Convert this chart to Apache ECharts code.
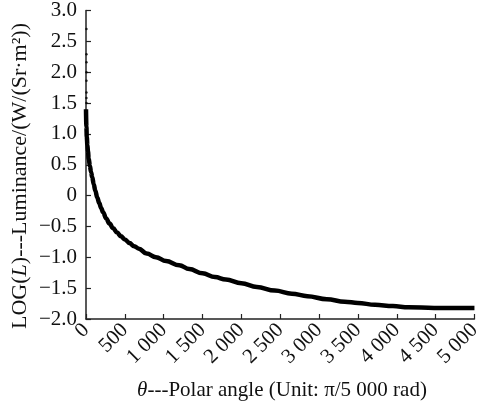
<!DOCTYPE html>
<html><head><meta charset="utf-8">
<script src="https://cdn.jsdelivr.net/npm/echarts@6/dist/echarts.min.js"></script>
<style>html,body{margin:0;padding:0;background:#fff}#c{width:484px;height:407px}</style>
</head><body><div id="c"></div>
<script>
var thetaValues = [0, 5, 10, 18, 25, 35, 50, 65, 80, 100, 120, 145, 170, 195, 220, 260, 300, 350, 400, 450, 500, 560, 620, 680, 780, 900, 1030, 1200, 1330, 1500, 1660, 1800, 2000, 2200, 2430, 2650, 2850, 3100, 3330, 3500, 3720, 3950, 4150, 4480, 5000];
var logLValues  = [1.4, 1.12, 0.95, 0.82, 0.72, 0.6, 0.48, 0.38, 0.3, 0.18, 0.08, -0.03, -0.12, -0.2, -0.27, -0.37, -0.45, -0.53, -0.6, -0.66, -0.71, -0.77, -0.82, -0.86, -0.94, -1.0, -1.06, -1.13, -1.19, -1.26, -1.32, -1.36, -1.42, -1.48, -1.54, -1.59, -1.63, -1.68, -1.72, -1.74, -1.77, -1.79, -1.81, -1.82, -1.82];
var sparseTheta = [6, 6, 6, 6, 6, 6, 6, 6];
var sparseLogL  = [2.7, 2.29, 2.16, 2.0, 1.86, 1.67, 1.58, 1.5];
var xTicks = [0, 500, 1000, 1500, 2000, 2500, 3000, 3500, 4000, 4500, 5000];
var yTicks = [-2.0, -1.5, -1.0, -0.5, 0, 0.5, 1.0, 1.5, 2.0, 2.5, 3.0];

var FONT = '"Liberation Serif", "DejaVu Serif", serif';
var chart = echarts.init(document.getElementById('c'), null, {renderer: 'canvas'});
var main = thetaValues.map(function (t, i) { return [t, logLValues[i]]; });
var sparse = sparseTheta.map(function (t, i) { return [t, sparseLogL[i]]; });
chart.setOption({
  animation: false,
  grid: {left: 86, right: 5, top: 10, bottom: 88, containLabel: false},
  xAxis: {
    type: 'value', min: xTicks[0], max: xTicks[xTicks.length - 1], interval: 500,
    axisLine: {show: true, onZero: false, lineStyle: {color: '#222', width: 1.5}},
    axisTick: {show: true, inside: true, length: 5, lineStyle: {color: '#222', width: 1.2}},
    splitLine: {show: false},
    axisLabel: {
      rotate: 45, margin: 8, color: '#111', fontFamily: FONT, fontSize: 21,
      formatter: function (v) { return v >= 1000 ? Math.floor(v / 1000) + ' ' + String(v % 1000).padStart(3, '0') : String(v); }
    }
  },
  yAxis: {
    type: 'value', min: yTicks[0], max: yTicks[yTicks.length - 1], interval: 0.5,
    axisLine: {show: true, onZero: false, lineStyle: {color: '#222', width: 1.5}},
    axisTick: {show: true, inside: true, length: 5, lineStyle: {color: '#222', width: 1.2}},
    splitLine: {show: false},
    axisLabel: {
      margin: 9, color: '#111', fontFamily: FONT, fontSize: 21,
      formatter: function (v) { return v === 0 ? '0' : v.toFixed(1).replace('-', '\u2212'); }
    }
  },
  graphic: [
    {type: 'text', x: 282, y: 390,
      style: {text: '{i|θ}---Polar angle (Unit: π/5 000 rad)', font: '21px ' + FONT, fill: '#111',
        align: 'center', verticalAlign: 'middle',
        rich: {i: {fontStyle: 'italic', fontFamily: FONT, fontSize: 21}}}},
    {type: 'text', x: 20, y: 176, rotation: Math.PI / 2,
      style: {text: 'LOG({i|L})---Luminance/(W/(Sr·m²))', font: '22px ' + FONT, fill: '#111',
        align: 'center', verticalAlign: 'middle',
        rich: {i: {fontStyle: 'italic', fontFamily: FONT, fontSize: 22}}}}
  ],
  series: [
    {type: 'line', data: main, smooth: 0.4, smoothMonotone: 'x', showSymbol: false, symbol: 'none',
      lineStyle: {color: '#000', width: 4.5}},
    {type: 'scatter', data: sparse, symbolSize: 2.5, itemStyle: {color: '#000'}}
  ]
});
</script></body></html>
